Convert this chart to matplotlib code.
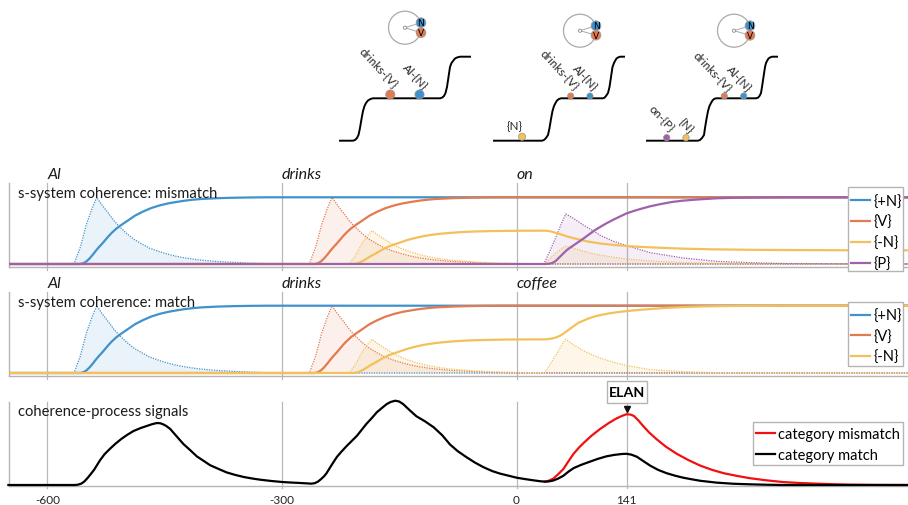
import matplotlib
matplotlib.use("Agg")
import matplotlib.pyplot as plt
from matplotlib.patches import Circle, Rectangle

plt.rcParams['font.family'] = ['Lato', 'DejaVu Sans']

W, H = 908, 506
BLUE, ORANGE, YELLOW, PURPLE = '#3f92cc', '#e37a50', '#f2c159', '#a061ab'
GREY = '#b4b4b4'

# ---- time axis (ms) ----
TICKS = [-600, -300, 0, 141]
TICK_LABELS = ['-600', '-300', '0', '141']
WORDS_MISMATCH = ['Al', 'drinks', 'on']
WORDS_MATCH = ['Al', 'drinks', 'coffee']
WORD_TIMES = [-600, -300, 0]
XLIM = (-649.2, 500.8)

# ---- s-system coherence curves ----
N_T = [-650, -558, -554, -550, -546, -542, -538, -534, -530, -526, -522, -518, -512, -505, -498,
       -488, -478, -467, -456, -445, -434, -424, -413, -403, -382, -360, -338, -317, 501]
N_V = [0, 0, .012, .04, .085, .14, .2, .255, .305, .36, .415, .465, .53, .59, .645,
       .725, .785, .84, .88, .91, .932, .95, .965, .975, .987, .994, .998, 1, 1]
V_T = [-650, -258, -254, -250, -246, -242, -238, -234, -230, -226, -222, -218, -212, -205, -198,
       -188, -178, -167, -156, -145, -134, -124, -113, -103, -82, -60, -38, -17, 501]
V_V = [0, 0, .012, .04, .085, .14, .2, .255, .305, .36, .415, .465, .53, .59, .645,
       .725, .785, .84, .88, .91, .932, .95, .965, .975, .987, .994, .998, 1, 1]
NEG_T_MIS = [-650, -209, -205, -201, -197, -193, -189, -185, -181, -177, -173, -169, -163, -156, -149,
             -139, -129, -118, -107, -96, -85, -75, -64, -54, -33, -11, 11, 36,
             40, 44, 48, 52, 58, 64, 72, 80, 90, 100, 110, 125, 141, 156, 171, 190, 213, 250, 299,
             350, 420, 501]
NEG_V_MIS = [0, 0, .006, .02, .042, .07, .1, .128, .152, .18, .207, .232, .265, .295, .322,
             .362, .392, .42, .44, .455, .466, .475, .482, .487, .493, .497, .499, .5,
             .497, .488, .475, .46, .44, .415, .39, .367, .34, .32, .303, .285, .27, .258, .25, .24, .23, .22, .213,
             .209, .206, .205]
NEG_T_MAT = [-650, -209, -205, -201, -197, -193, -189, -185, -181, -177, -173, -169, -163, -156, -149,
             -139, -129, -118, -107, -96, -85, -75, -64, -54, -33, -11, 11, 36,
             40, 44, 48, 52, 56, 60, 64, 68, 72, 76, 80, 86, 92, 100, 107, 118, 130, 141, 156, 171, 190,
             213, 240, 277, 341, 501]
NEG_V_MAT = [0, 0, .006, .02, .042, .07, .1, .128, .152, .18, .207, .232, .265, .295, .322,
             .362, .392, .42, .44, .455, .466, .475, .482, .487, .493, .497, .499, .5,
             .503, .51, .52, .535, .555, .585, .62, .653, .687, .72, .75, .78, .81, .84, .86, .885, .905, .92, .937, .95, .967,
             .98, .99, .996, 1, 1]
P_T = [-650, 37, 41, 45, 48, 51, 54, 57, 60, 64, 68, 72, 78, 86, 93, 100, 107, 115, 124, 132, 141, 150, 160,
       171, 185, 199, 213, 235, 256, 277, 299, 341, 501]
P_V = [0, 0, .004, .012, .028, .055, .09, .125, .16, .205, .24, .272, .32, .385, .445, .505, .555, .61, .665, .71, .76, .795, .83,
       .865, .9, .93, .95, .97, .985, .992, .996, 1, 1]

# ---- dotted activation spikes ----
SN_T = [-650, -566, -558, -550, -543, -537, -530, -522, -515, -507, -499, -490, -480, -469, -458, -447, -437,
        -426, -415, -405, -384, -362, -340, -319, -299, 501]
SN_V = [0, 0, .25, .6, .83, 1, .88, .76, .65, .55, .46, .375, .305, .235, .19, .15, .12,
        .095, .075, .06, .038, .025, .012, .005, 0, 0]
SV_T = [-650, -265, -257, -249, -242, -236, -229, -221, -214, -206, -198, -189, -179, -168, -157, -146, -136,
        -125, -114, -104, -83, -61, -39, -18, 2, 501]
SV_V = [0, 0, .25, .6, .83, 1, .88, .76, .65, .55, .46, .375, .305, .235, .19, .15, .12,
        .095, .075, .06, .038, .025, .012, .005, 0, 0]
SNEG_T_MIS = [-650, -214, -206, -198, -191, -185, -178, -170, -163, -155, -147, -138, -128, -117, -106, -95, -85,
              -74, -63, -53, -32, -10, 12, 33, 36,
              43, 51, 58, 63, 70, 78, 86, 96, 107, 124, 141, 171, 213, 256, 299, 501]
SNEG_V_MIS = [0, 0, .125, .3, .415, .5, .44, .38, .325, .275, .23, .19, .155, .12, .095, .075, .06,
              .05, .04, .03, .019, .012, .006, .003, 0,
              .08, .17, .23, .265, .245, .22, .19, .16, .135, .1, .075, .045, .02, .01, .005, 0]
SNEG_T_MAT = [-650, -214, -206, -198, -191, -185, -178, -170, -163, -155, -147, -138, -128, -117, -106, -95, -85,
              -74, -63, -53, -32, -10, 12, 33, 36,
              43, 51, 58, 63, 70, 78, 86, 96, 107, 124, 141, 171, 213, 256, 299, 501]
SNEG_V_MAT = [0, 0, .125, .3, .415, .5, .44, .38, .325, .275, .23, .19, .155, .12, .095, .075, .06,
              .05, .04, .03, .019, .012, .006, .003, 0,
              .13, .28, .42, .5, .44, .385, .33, .275, .22, .16, .11, .05, .02, .005, 0, 0]
SP_T = [-650, 35, 43, 51, 58, 63, 72, 86, 98, 107, 124, 141, 171, 213, 256, 299, 341, 427, 501]
SP_V = [0, 0, .2, .42, .62, .75, .69, .58, .5, .43, .34, .275, .17, .09, .04, .02, .008, .002, 0]

# ---- coherence-process signals ----
MATCH_T = [-650, -565, -561, -557, -553, -549, -545, -540, -533, -527, -520, -513, -505, -498, -490, -481, -473,
           -466, -460, -456, -452, -448, -443, -435, -426, -417, -409, -400, -392, -381, -371, -360, -349, -338,
           -328, -314, -299, -288, -277, -268, -262, -258, -254, -250, -246, -243, -237, -230, -224, -217, -211,
           -204, -198, -192, -185, -179, -172, -166, -161, -155, -150, -145, -137, -128, -117, -106, -95, -85,
           -75, -64, -53, -42, -31, -21, -10, 0, 11, 22, 30, 36, 41, 47, 53, 60, 66, 73, 83, 94, 104, 115, 125,
           135, 141, 147, 154, 162, 171, 181, 192, 203, 213, 224, 235, 256, 277, 299, 320, 341, 501]
MATCH_V = [0, 0, .004, .015, .04, .08, .125, .185, .29, .365, .43, .49, .55, .595, .64, .675, .70,
           .722, .735, .733, .72, .70, .665, .58, .485, .41, .34, .285, .235, .19, .15, .12, .095, .077,
           .063, .048, .035, .029, .024, .019, .016, .022, .04, .07, .105, .14, .23, .33, .395, .465, .52,
           .585, .655, .725, .795, .86, .915, .96, .985, 1, .99, .96, .89, .815, .755, .685, .59, .48,
           .4, .33, .265, .21, .165, .135, .11, .087, .07, .055, .045, .04, .042, .053, .075, .11, .155, .2, .24, .277, .31, .34, .357,
           .368, .37, .36, .335, .285, .23, .18, .14, .11, .087, .068, .05, .028, .015, .008, .003, 0, 0]
MISMATCH_T = [36, 41, 47, 53, 60, 66, 73, 80, 86, 96, 107, 118, 128, 135, 141, 146, 150, 156, 162, 170, 179, 191,
              205, 220, 235, 250, 265, 282, 299, 320, 341, 362, 384, 405, 427, 460, 501]
MISMATCH_V = [.04, .05, .075, .125, .19, .275, .37, .445, .5, .585, .665, .735, .79, .82, .84, .835, .82, .765, .70, .62, .545, .455,
              .37, .295, .23, .18, .14, .108, .08, .055, .035, .024, .016, .009, .004, .001, 0]

# ---- schematic landscapes (overlay units) ----
STAIR_Y = [141.7, 141.7, 141, 139, 136, 129, 120, 112, 107, 104, 101.5, 100, 99.3,
           99.3, 98.7, 97, 94, 88, 78, 68, 64, 62, 59.5, 58.5, 57.7, 57.7]
STAIR_XS = [
    [340, 353, 355, 357, 358.5, 360, 361.5, 363, 364.5, 366, 368, 370.5, 373,
     440, 442, 444, 445.5, 447, 448.5, 450, 451.5, 453, 455, 457, 460, 470],
    [494, 542, 544, 546, 548, 549.5, 551, 552.5, 554, 555.5, 557, 559, 561,
     603, 604.5, 606, 608, 609.5, 611, 612.5, 614, 615, 616.5, 618, 620, 624],
    [647, 698, 700, 702, 704, 705, 706.5, 708, 709.5, 711, 712.5, 714, 716,
     756, 758, 759.5, 761, 762, 763.5, 765, 766, 767, 768.5, 770, 772, 777],
]
CIRCLE_XY = [(405, 28.7), (580, 31.7), (734, 31.7)]
SYS_N_XY = [(421, 23.7), (596, 26.7), (750, 26.7)]
SYS_V_XY = [(421, 33.7), (596, 36.2), (750, 36.3)]
DOT_X = [390.3, 419.5, 570.7, 590, 522, 724.3, 743.7, 666.7, 686]
DOT_Y = [95.5, 95.5, 97, 97, 137.7, 97, 97, 138.7, 138.7]
DOT_R = [4.6, 4.6, 3.1, 3.1, 3.6, 3.1, 3.1, 3.2, 3.2]
DOT_C = [ORANGE, BLUE, ORANGE, BLUE, YELLOW, ORANGE, BLUE, PURPLE, YELLOW]
LABELS = ['drinks-{V}', 'Al-{N}', 'drinks-{V}', 'Al-{N}', '{N}', 'drinks-{V}', 'Al-{N}', 'on-{P}', '{N}']
LABEL_X = [379, 415, 560, 585, 515, 712.7, 739, 661.7, 686]
LABEL_Y = [68, 76.7, 70, 78, 126.7, 71.7, 79, 119, 125.7]
LABEL_ROT = [-47, -47, -47, -47, 0, -47, -47, -47, -47]

fig = plt.figure(figsize=(W / 100, H / 100), dpi=100)


def make_axes(top, bottom, base, one):
    ax = fig.add_axes([9 / W, 1 - bottom / H, (W - 9) / W, (bottom - top) / H])
    ax.set_xlim(*XLIM)
    scale = base - one
    ax.set_ylim((base - bottom) / scale, (base - top) / scale)
    ax.patch.set_alpha(0)
    for s in ('top', 'right'):
        ax.spines[s].set_visible(False)
    for s in ('left', 'bottom'):
        ax.spines[s].set_color(GREY)
        ax.spines[s].set_linewidth(1.0)
    ax.set_yticks([])
    ax.set_xticks([])
    for t in TICKS:
        ax.axvline(t, ymin=-0.03, color='#b8b8b8', lw=0.9, clip_on=False, zorder=0.5)
    return ax


def spike(ax, t, v, c, a=0.11):
    ax.fill_between(t, v, 0, color=c, alpha=a, lw=0, zorder=1)
    ax.plot(t, v, color=c, lw=0.9, ls=(0, (1, 1)), zorder=2)


def legend(ax, handles, labels, x0, x1, y0, y1, anchor_y):
    ax.add_patch(Rectangle((x0 / W, 1 - y1 / H), (x1 - x0) / W, (y1 - y0) / H, fc='white', ec=GREY,
                           lw=1.0, transform=fig.transFigure, clip_on=False, zorder=9))
    leg = ax.legend(handles, labels, loc='upper left',
                    bbox_to_anchor=((x0 - 1) / W, 1 - anchor_y / H), bbox_transform=fig.transFigure,
                    frameon=False, borderaxespad=0, fontsize=10.5, handlelength=1.3,
                    handletextpad=0.2, borderpad=0.3, labelspacing=0.46)
    leg.set_zorder(10)
    return leg


# panel 1 -------------------------------------------------------------------
ax1 = make_axes(184, 268, 265, 198.3)
spike(ax1, SN_T, SN_V, BLUE)
spike(ax1, SV_T, SV_V, ORANGE)
spike(ax1, SNEG_T_MIS, SNEG_V_MIS, YELLOW, 0.13)
spike(ax1, SP_T, SP_V, PURPLE, 0.10)
l1, = ax1.plot(N_T, N_V, color=BLUE, lw=1.6, zorder=3)
l2, = ax1.plot(V_T, V_V, color=ORANGE, lw=1.6, zorder=3)
l3, = ax1.plot(NEG_T_MIS, NEG_V_MIS, color=YELLOW, lw=1.6, zorder=3)
l4, = ax1.plot(P_T, P_V, color=PURPLE, lw=1.6, zorder=3)
legend(ax1, [l1, l2, l3, l4], ['{+N}', '{V}', '{-N}', '{P}'], 848, 902.5, 188, 272, 191)

# panel 2 -------------------------------------------------------------------
ax2 = make_axes(293, 377, 374, 306.7)
spike(ax2, SN_T, SN_V, BLUE)
spike(ax2, SV_T, SV_V, ORANGE)
spike(ax2, SNEG_T_MAT, SNEG_V_MAT, YELLOW, 0.13)
m1, = ax2.plot(N_T, N_V, color=BLUE, lw=1.6, zorder=3)
m2, = ax2.plot(V_T, V_V, color=ORANGE, lw=1.6, zorder=3)
m3, = ax2.plot(NEG_T_MAT, NEG_V_MAT, color=YELLOW, lw=1.6, zorder=3)
legend(ax2, [m1, m2, m3], ['{+N}', '{V}', '{-N}'], 848, 902.5, 303, 367, 305.3)

# panel 3 -------------------------------------------------------------------
ax3 = make_axes(402.7, 486.7, 486, 401.7)
r1, = ax3.plot(MISMATCH_T, MISMATCH_V, color='#f01010', lw=1.6, clip_on=False, zorder=3)
k1, = ax3.plot(MATCH_T, MATCH_V, color='black', lw=1.6, clip_on=False, zorder=4)
ax3.set_xticks(TICKS, TICK_LABELS, fontsize=8.5, color='#222222')
ax3.tick_params(axis='x', length=0, pad=6)
legend(ax3, [r1, k1], ['category mismatch', 'category match'], 753, 902.5, 423, 466, 424)

# panel captions ------------------------------------------------------------
for ax, txt in ((ax1, 's-system coherence: mismatch'), (ax2, 's-system coherence: match'),
                (ax3, 'coherence-process signals')):
    ax.text(9 / (W - 9), 0.885, txt, transform=ax.transAxes,
            fontsize=10.6, color='#1a1a1a', va='center', ha='left', zorder=6)
for ax, words in ((ax1, WORDS_MISMATCH), (ax2, WORDS_MATCH)):
    for t, w in zip(WORD_TIMES, words):
        ax.text(t, 1.105, w, transform=ax.get_xaxis_transform(), fontsize=11.5, style='italic',
                color='#1a1a1a', va='center', ha='left', clip_on=False)

# overlay: schematics -------------------------------------------------------
ov = fig.add_axes([0, 0, 1, 1], facecolor='none')
ov.set_xlim(0, W)
ov.set_ylim(H, 0)
ov.axis('off')
for xs in STAIR_XS:
    ov.plot(xs, STAIR_Y, color='black', lw=1.4, solid_joinstyle='round')
for c, n, v in zip(CIRCLE_XY, SYS_N_XY, SYS_V_XY):
    ov.add_patch(Circle(c, 16.5, fc='white', ec='#aaaaaa', lw=0.9, zorder=2))
    ov.plot([c[0], n[0]], [c[1], n[1]], color='#aaaaaa', lw=0.7, zorder=3)
    ov.plot([c[0], v[0]], [c[1], v[1]], color='#aaaaaa', lw=0.7, zorder=3)
    ov.add_patch(Circle(c, 1.6, fc='white', ec='#888888', lw=0.6, zorder=4))
    ov.add_patch(Circle(n, 4.9, fc=BLUE, ec='#999999', lw=0.5, zorder=5))
    ov.add_patch(Circle(v, 4.9, fc=ORANGE, ec='#999999', lw=0.5, zorder=5))
    ov.text(n[0], n[1], 'N', fontsize=6.5, ha='center', va='center', zorder=6, family='DejaVu Sans')
    ov.text(v[0], v[1], 'V', fontsize=6.5, ha='center', va='center', zorder=6, family='DejaVu Sans')
for x, y, r, col in zip(DOT_X, DOT_Y, DOT_R, DOT_C):
    ov.add_patch(Circle((x, y), r, fc=col, ec='#999999', lw=0.5, zorder=5))
for txt, x, y, rot in zip(LABELS, LABEL_X, LABEL_Y, LABEL_ROT):
    ov.text(x, y, txt, fontsize=8.4, rotation=rot, rotation_mode='anchor', ha='center',
            va='center', color='#222222')

# ELAN marker ---------------------------------------------------------------
ov.add_patch(Rectangle((607, 382), 40, 22, fc='white', ec=GREY, lw=1.0, zorder=7))
ov.text(627, 393, 'ELAN', fontsize=10.3, fontweight='bold', ha='center', va='center', zorder=8)
ov.plot([627], [410], marker='v', ms=5, color='#111111', zorder=8)

fig.savefig('out.png', dpi=100)
